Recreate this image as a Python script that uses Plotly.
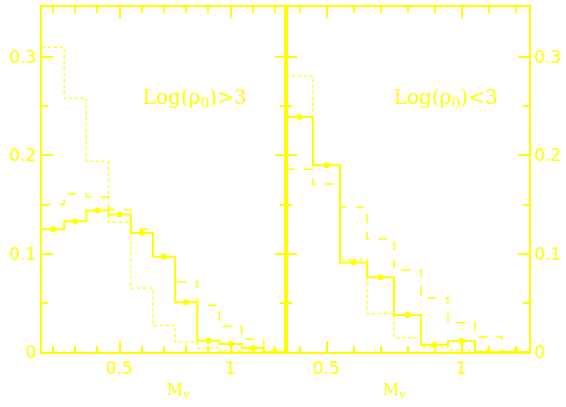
import plotly.graph_objects as go

# ---- data ----
bin_width = 0.1
left_centers = [0.2, 0.3, 0.4, 0.5, 0.6, 0.7, 0.8, 0.9, 1.0, 1.1, 1.2]
left_solid = [0.125, 0.133, 0.144, 0.140, 0.121, 0.097, 0.0505, 0.0115, 0.0081, 0.0041, 0.0]
left_dashed = [0.150, 0.161, 0.158, 0.145, 0.125, 0.097, 0.0715, 0.0475, 0.026, 0.013, 0.0]
left_dotted = [0.310, 0.258, 0.194, 0.132, 0.065, 0.027, 0.010, 0.004, 0.0015, 0.0, 0.0]

right_centers = [0.4, 0.5, 0.6, 0.7, 0.8, 0.9, 1.0, 1.1, 1.2]
right_solid = [0.239, 0.190, 0.091, 0.076, 0.0376, 0.0074, 0.0112, 0.0, 0.0]
right_dashed = [0.186, 0.171, 0.147, 0.115, 0.0834, 0.0553, 0.0298, 0.0153, 0.0]
right_dotted = [0.281, 0.190, 0.094, 0.039, 0.0146, 0.005, 0.002, 0.0, 0.0]

yticks_major = 0.1
xticks_major = 0.5

YEL = "#FFFF00"


def steps(centers, values):
    edges = [c - bin_width / 2 for c in centers] + [centers[-1] + bin_width / 2]
    return edges, list(values) + [values[-1]]


fig = go.Figure()


def add_panel(centers, solid, dashed, dotted, xa, ya):
    for vals, dash, w in [(dotted, "dot", 1.3), (dashed, "dash", 1.5), (solid, "solid", 2)]:
        x, y = steps(centers, vals)
        fig.add_trace(go.Scatter(x=x, y=y, mode="lines", line_shape="hv",
                                 line=dict(color=YEL, width=w, dash=dash),
                                 xaxis=xa, yaxis=ya, hoverinfo="skip"))
    fig.add_trace(go.Scatter(x=centers, y=solid, mode="markers",
                             marker=dict(color=YEL, size=6),
                             xaxis=xa, yaxis=ya, hoverinfo="skip"))


add_panel(left_centers, left_solid, left_dashed, left_dotted, "x", "y")
add_panel(right_centers, right_solid, right_dashed, right_dotted, "x2", "y2")

tickfont = dict(family="DejaVu Sans", size=17, color=YEL)
common = dict(showline=True, linecolor=YEL, linewidth=2, mirror="ticks",
              ticks="inside", ticklen=11, tickwidth=1.5, tickcolor=YEL,
              showgrid=False, zeroline=False, tickfont=tickfont, automargin=False)

W, H = 566, 407
xl0, xmid, xr1 = 42 / W, 286 / W, 529 / W
yb, yt = 1 - 352 / H, 1 - 7 / H

fig.update_layout(
    width=W, height=H, margin=dict(l=0, r=0, t=0, b=0, autoexpand=False),
    paper_bgcolor="white", plot_bgcolor="white", showlegend=False,
    xaxis=dict(domain=[xl0, xmid], range=[0.15, 1.25], anchor="y", dtick=xticks_major, tick0=0,
               minor=dict(dtick=0.1, tick0=0, ticks="inside", ticklen=6, tickcolor=YEL, tickwidth=1.5),
               **common),
    yaxis=dict(domain=[yb, yt], range=[0, 0.351], anchor="x", dtick=yticks_major, tick0=0,
               minor=dict(dtick=0.05, tick0=0, ticks="inside", ticklen=6, tickcolor=YEL, tickwidth=1.5),
               **common),
    xaxis2=dict(domain=[xmid, xr1], range=[0.35, 1.25], anchor="y2", dtick=xticks_major, tick0=0,
                minor=dict(dtick=0.1, tick0=0, ticks="inside", ticklen=6, tickcolor=YEL, tickwidth=1.5),
                **common),
    yaxis2=dict(domain=[yb, yt], range=[0, 0.351], anchor="x2", side="right", dtick=yticks_major, tick0=0,
                minor=dict(dtick=0.05, tick0=0, ticks="inside", ticklen=6, tickcolor=YEL, tickwidth=1.5),
                **common),
)

serif = dict(family="DejaVu Serif", size=20, color=YEL)
fig.add_annotation(x=0.84, y=0.258, xref="x", yref="y", text="Log(ρ<sub>0</sub>)>3",
                   showarrow=False, font=serif)
fig.add_annotation(x=0.942, y=0.258, xref="x2", yref="y2", text="Log(ρ<sub>0</sub>)<3",
                   showarrow=False, font=serif)

mfont = dict(family="DejaVu Serif", size=16, color=YEL)
for xc in (165, 408):
    fig.add_annotation(x=xc / W, y=0, xref="paper", yref="paper", yanchor="bottom",
                       text="M<sub>v</sub>", showarrow=False, font=mfont, yshift=4)

fig.write_html("out.html")
